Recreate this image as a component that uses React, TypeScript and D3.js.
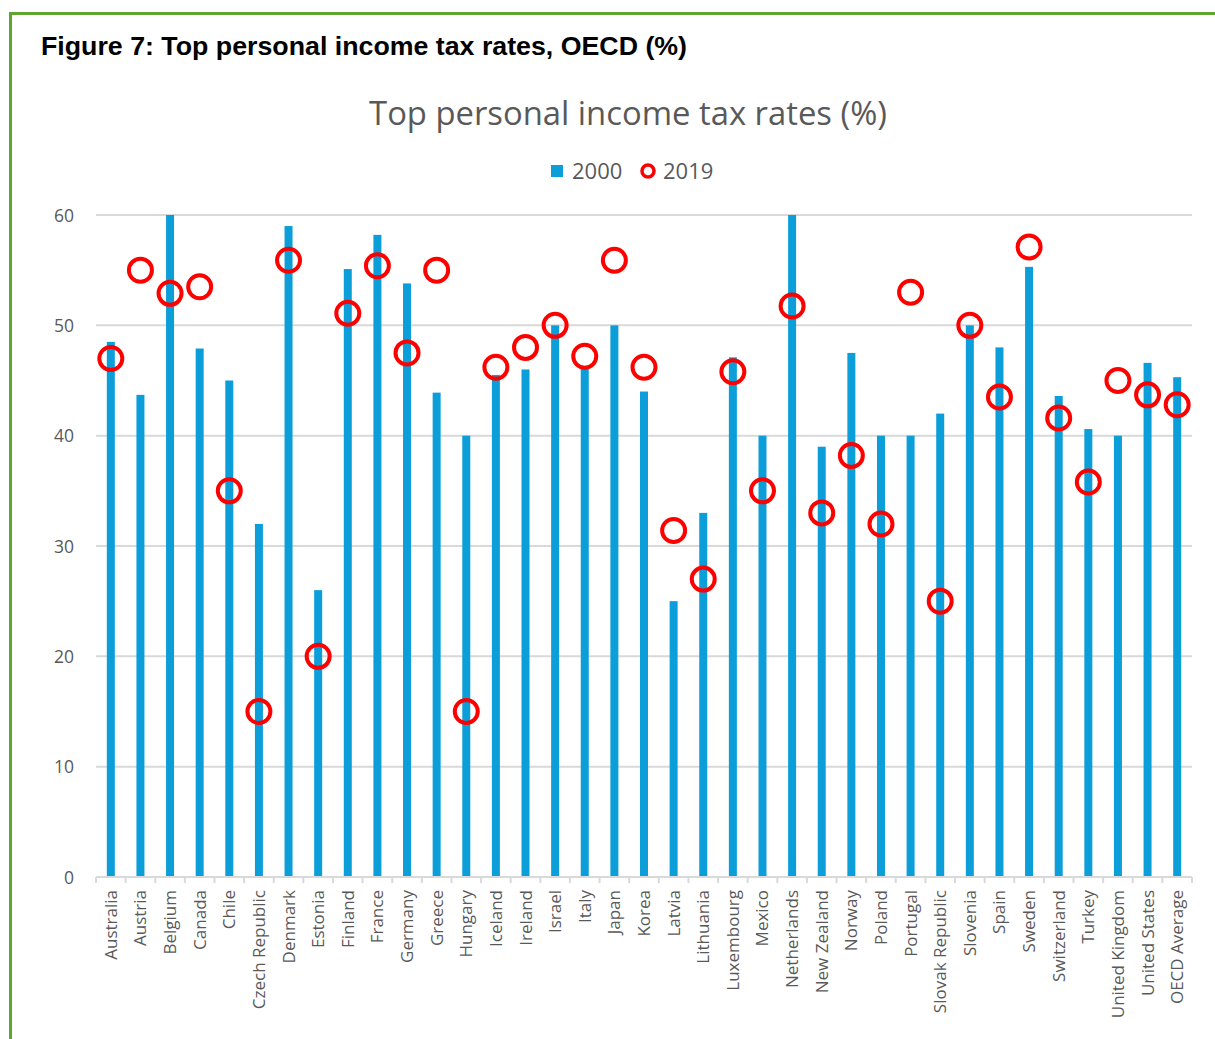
import React from "react";
import * as d3 from "d3";

const countries = ["Australia","Austria","Belgium","Canada","Chile","Czech Republic","Denmark","Estonia","Finland","France","Germany","Greece","Hungary","Iceland","Ireland","Israel","Italy","Japan","Korea","Latvia","Lithuania","Luxembourg","Mexico","Netherlands","New Zealand","Norway","Poland","Portugal","Slovak Republic","Slovenia","Spain","Sweden","Switzerland","Turkey","United Kingdom","United States","OECD Average"];
const values2000 = [48.5,43.7,60,47.9,45,32,59,26,55.1,58.2,53.8,43.9,40,45.5,46,50,46.1,50,44,25,33,47.1,40,60,39,47.5,40,40,42,50,48,55.3,43.6,40.6,40,46.6,45.3];
const values2019 = [47,55,52.9,53.5,35,15,55.9,20,51.1,55.4,47.5,55,15,46.2,48,50,47.2,55.9,46.2,31.4,27,45.8,35,51.75,33,38.2,32,53,25,50,43.5,57.1,41.6,35.8,45,43.7,42.8];
const yTicks = [0,10,20,30,40,50,60];

const W = 1215, H = 1039;
const left = 96, right = 1192, top = 215, bottom = 877;
const labelColor = "#595959";
const font = "'Open Sans', sans-serif";

export default function App() {
  const x = d3.scaleBand<string>().domain(countries).range([left, right]).paddingInner(0).paddingOuter(0);
  const y = d3.scaleLinear().domain([0, 60]).range([bottom, top]);
  const bw = 8;
  return (
    <svg width={W} height={H} style={{ position: "absolute", left: 0, top: 0, background: "#fff" }}>
      <rect x={0} y={0} width={W} height={H} fill="#fff" />
      <line x1={10} y1={13.5} x2={W} y2={13.5} stroke="#5ea630" strokeWidth={3} />
      <line x1={10.5} y1={12} x2={10.5} y2={H} stroke="#5ea630" strokeWidth={3} />
      <text x={41} y={55} fontFamily="'Liberation Sans', Arial, sans-serif" fontWeight="bold" fontSize={26.7} fill="#000" textLength={646} lengthAdjust="spacingAndGlyphs">Figure 7: Top personal income tax rates, OECD (%)</text>
      <text x={628} y={125} textAnchor="middle" fontFamily={font} fontSize={32.8} fill={labelColor}>Top personal income tax rates (%)</text>
      {/* legend */}
      <rect x={551} y={165} width={12} height={12} fill="#0b9ed9" />
      <text x={572} y={179} fontFamily={font} fontSize={22} fill={labelColor}>2000</text>
      <circle cx={648} cy={171} r={6} fill="none" stroke="#ff0000" strokeWidth={3.5} />
      <text x={663} y={179} fontFamily={font} fontSize={22} fill={labelColor}>2019</text>
      {/* gridlines */}
      {yTicks.map(t => (
        <g key={t}>
          {t > 0 && <line x1={left} x2={right} y1={y(t)} y2={y(t)} stroke="#d9d9d9" strokeWidth={2} />}
          <text x={74} y={y(t) + 6.5} textAnchor="end" fontFamily={font} fontSize={17.5} fill={labelColor}>{t}</text>
        </g>
      ))}
      {/* bars */}
      {countries.map((c, i) => (
        <rect key={c} x={(x(c) as number) + x.bandwidth() / 2 - bw / 2} y={y(values2000[i])} width={bw} height={bottom - y(values2000[i])} fill="#0b9ed9" />
      ))}
      {/* axis */}
      <line x1={left} x2={right} y1={bottom} y2={bottom} stroke="#d9d9d9" strokeWidth={2} />
      {countries.map((c) => (
        <line key={"t" + c} x1={x(c) as number} x2={x(c) as number} y1={bottom} y2={bottom + 6} stroke="#d9d9d9" strokeWidth={2} />
      ))}
      <line x1={right} x2={right} y1={bottom} y2={bottom + 6} stroke="#d9d9d9" strokeWidth={2} />
      {/* circles */}
      {countries.map((c, i) => (
        <circle key={"c" + c} cx={(x(c) as number) + x.bandwidth() / 2} cy={y(values2019[i])} r={11.5} fill="none" stroke="#ff0000" strokeWidth={4} />
      ))}
      {/* x labels */}
      {countries.map(c => {
        const cx = (x(c) as number) + x.bandwidth() / 2 + 6;
        return (
          <text key={"l" + c} transform={`translate(${cx},890) rotate(-90)`} textAnchor="end" fontFamily={font} fontSize={17} fill={labelColor}>{c}</text>
        );
      })}
    </svg>
  );
}
